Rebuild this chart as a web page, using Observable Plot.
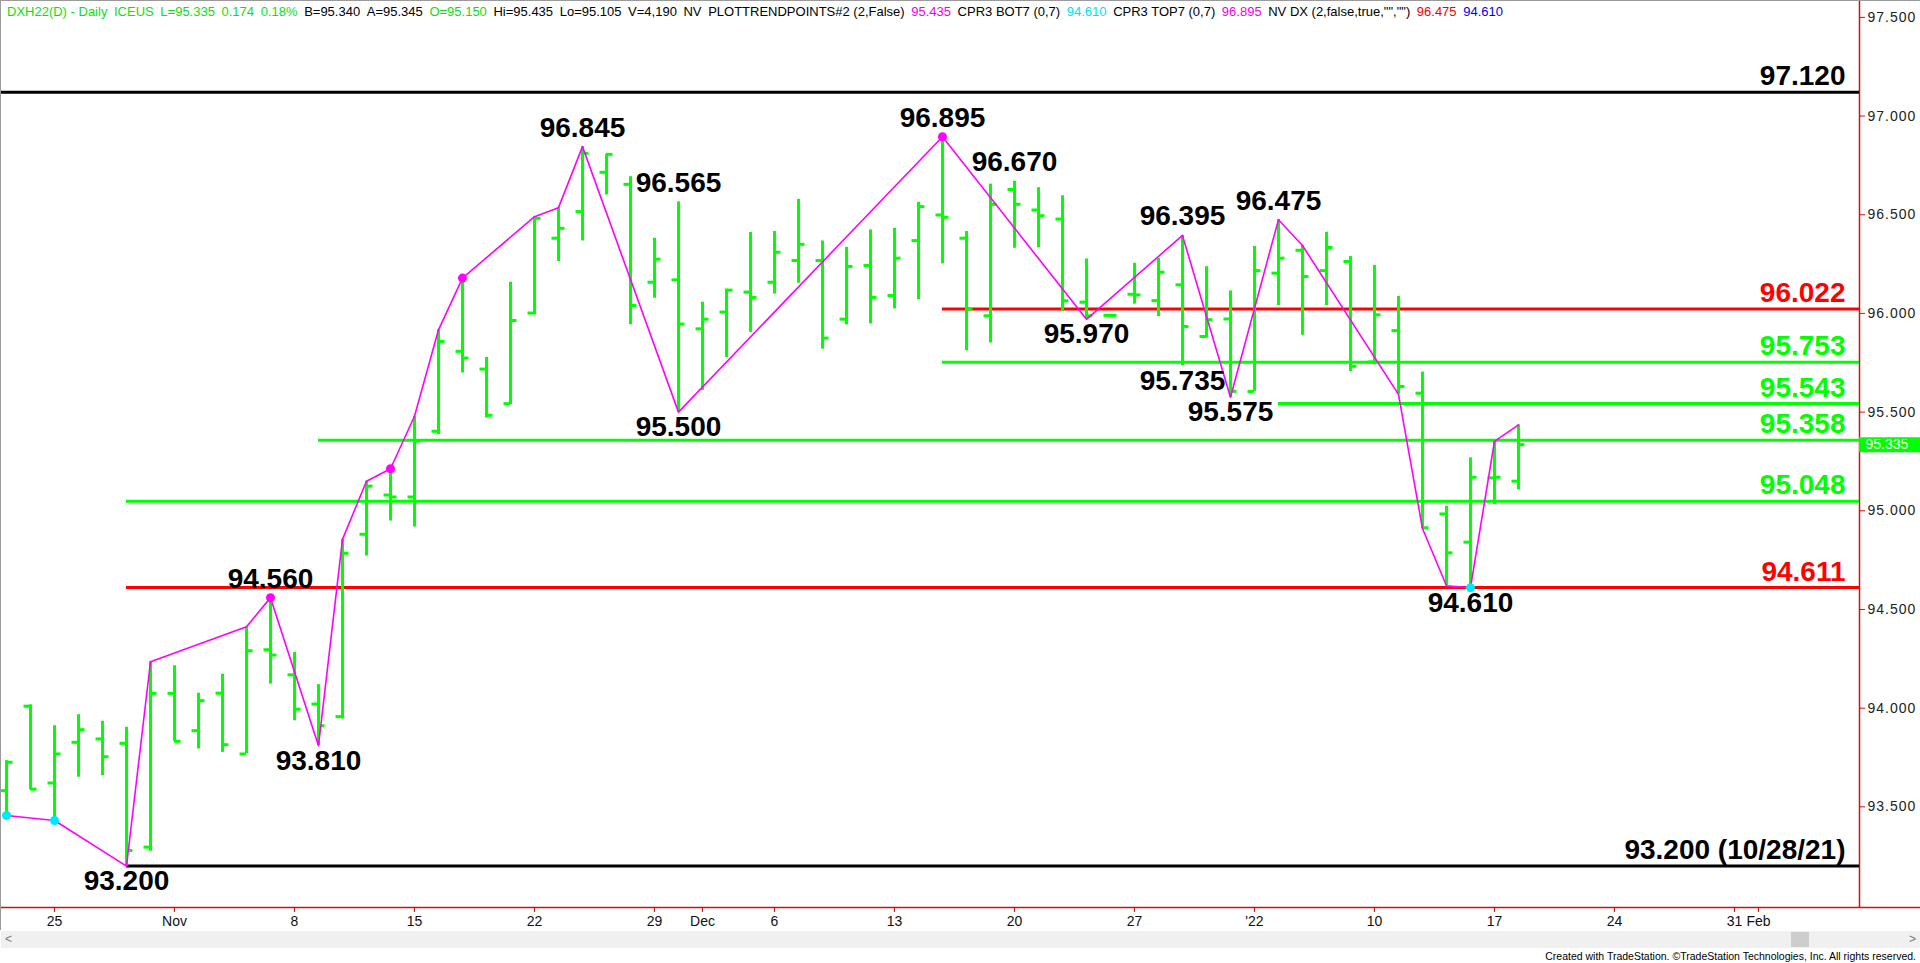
<!DOCTYPE html>
<html>
<head>
<meta charset="utf-8">
<script src="https://cdn.jsdelivr.net/npm/d3@7"></script>
<script src="https://cdn.jsdelivr.net/npm/@observablehq/plot@0.6"></script>
<style>
html, body { margin: 0; padding: 0; background: #fff; }
#wrap { position: relative; width: 1920px; height: 963px; overflow: hidden; font-family: "Liberation Sans", Arial, sans-serif; }
#chart svg { display: block; }
#border { position: absolute; left: 0; top: 0; width: 1920px; height: 930px; border-top: 1px solid #9a9a9a; border-left: 1px solid #9a9a9a; box-sizing: border-box; pointer-events: none; }
#hdr { position: absolute; left: 7px; top: 4px; font-size: 13px; white-space: pre; display: flex; gap: 6.6px; line-height: 16px; }
#hdr .g { color: #10dd10; } #hdr .k { color: #000; } #hdr .m { color: #ee00ee; }
#hdr .c { color: #00e0f0; } #hdr .r { color: #ee0000; } #hdr .b { color: #0000ee; }
#scroll { position: absolute; left: 1px; top: 931px; width: 1919px; height: 17px; background: #f0f0f0; }
#scroll .l, #scroll .rr { position: absolute; top: 0; font-size: 12px; color: #777; line-height: 17px; }
#scroll .l { left: 4px; } #scroll .rr { right: 4px; }
#scroll .thumb { position: absolute; left: 1790px; top: 1px; width: 18px; height: 15px; background: #cdcdcd; }
#credit { position: absolute; right: 4px; top: 950px; font-size: 10.5px; color: #000; }
</style>
</head>
<body>
<div id="wrap">
  <div id="chart"></div>
  <div id="border"></div>
  <div id="hdr"><span class="g">DXH22(D) - Daily</span><span class="g">ICEUS</span><span class="g">L=95.335</span><span class="g">0.174</span><span class="g">0.18%</span><span class="k">B=95.340</span><span class="k">A=95.345</span><span class="g">O=95.150</span><span class="k">Hi=95.435</span><span class="k">Lo=95.105</span><span class="k">V=4,190</span><span class="k">NV</span><span class="k">PLOTTRENDPOINTS#2 (2,False)</span><span class="m">95.435</span><span class="k">CPR3 BOT7 (0,7)</span><span class="c">94.610</span><span class="k">CPR3 TOP7 (0,7)</span><span class="m">96.895</span><span class="k">NV DX (2,false,true,"","")</span><span class="r">96.475</span><span class="b">94.610</span></div>
  <div id="scroll"><span class="l">&lt;</span><div class="thumb"></div><span class="rr">&gt;</span></div>
  <div id="credit">Created with TradeStation. ©TradeStation Technologies, Inc. All rights reserved.</div>
</div>
<script>
// ---- Daily OHLC bars, DXH22 (US Dollar Index, March 2022) ----
const barDates = [
  "2021-10-21","2021-10-22","2021-10-25","2021-10-26","2021-10-27","2021-10-28","2021-10-29","2021-11-01",
  "2021-11-02","2021-11-03","2021-11-04","2021-11-05","2021-11-08","2021-11-09","2021-11-10","2021-11-11",
  "2021-11-12","2021-11-15","2021-11-16","2021-11-17","2021-11-18","2021-11-19","2021-11-22","2021-11-23",
  "2021-11-24","2021-11-25","2021-11-26","2021-11-29","2021-11-30","2021-12-01","2021-12-02","2021-12-03",
  "2021-12-06","2021-12-07","2021-12-08","2021-12-09","2021-12-10","2021-12-13","2021-12-14","2021-12-15",
  "2021-12-16","2021-12-17","2021-12-20","2021-12-21","2021-12-22","2021-12-23","2021-12-24","2021-12-27",
  "2021-12-28","2021-12-29","2021-12-30","2021-12-31","2022-01-03","2022-01-04","2022-01-05","2022-01-06",
  "2022-01-07","2022-01-10","2022-01-11","2022-01-12","2022-01-13","2022-01-14","2022-01-17","2022-01-18"
];
const barOpen = [
  93.582, 94.010, 93.621, 93.827, 93.844, 93.822, 93.296, 94.075,
  93.886, 94.076, 93.768, 94.296, 94.169, 94.021, 93.957, 94.881,
  95.080, 95.070, 95.403, 95.808, 95.718, 95.543, 96.002, 96.381,
  96.516, 96.715, 96.654, 96.158, 96.170, 95.922, 96.007, 96.108,
  96.158, 96.268, 96.268, 95.971, 96.243, 96.091, 96.369, 96.499,
  96.381, 95.988, 96.628, 96.524, 96.478, 96.057, 95.990, 96.097,
  96.065, 96.145, 95.883, 95.972, 95.605, 96.204, 96.320, 96.217,
  96.263, 95.754, 95.913, 95.596, 94.984, 94.841, 95.167, 95.150
];
const barHigh = [
  93.734, 94.017, 93.911, 93.967, 93.933, 93.903, 94.235, 94.215,
  94.076, 94.172, 94.412, 94.560, 94.282, 94.119, 94.855, 95.150,
  95.213, 95.479, 95.917, 96.179, 95.777, 96.158, 96.490, 96.536,
  96.845, 96.806, 96.693, 96.381, 96.565, 96.057, 96.123, 96.410,
  96.415, 96.578, 96.367, 96.334, 96.423, 96.431, 96.563, 96.895,
  96.415, 96.655, 96.670, 96.637, 96.596, 96.276, 95.995, 96.254,
  96.279, 96.395, 96.237, 96.114, 96.339, 96.475, 96.344, 96.411,
  96.288, 96.243, 96.086, 95.703, 95.023, 95.268, 95.352, 95.435
];
const barLow = [
  93.456, 93.586, 93.431, 93.650, 93.658, 93.200, 93.275, 93.832,
  93.793, 93.776, 93.768, 94.122, 93.936, 93.810, 93.945, 94.771,
  94.948, 94.918, 95.386, 95.698, 95.470, 95.538, 95.993, 96.263,
  96.367, 96.600, 95.943, 96.077, 95.500, 95.609, 95.777, 95.904,
  96.098, 96.153, 95.819, 95.942, 95.947, 96.023, 96.069, 96.251,
  95.811, 95.850, 96.330, 96.333, 96.010, 95.970, 95.985, 96.047,
  95.984, 95.735, 95.875, 95.575, 95.605, 96.040, 95.889, 96.040,
  95.706, 95.740, 95.590, 94.910, 94.620, 94.610, 95.032, 95.105
];
const barClose = [
  93.726, 93.590, 93.768, 93.891, 93.754, 93.279, 94.075, 93.832,
  94.038, 93.815, 94.291, 94.269, 93.995, 93.911, 94.785, 95.125,
  95.070, 95.353, 95.858, 95.774, 95.484, 95.964, 96.482, 96.431,
  96.811, 96.806, 96.040, 96.275, 95.946, 95.971, 96.118, 96.081,
  96.310, 96.350, 95.875, 96.238, 96.081, 96.280, 96.541, 96.487,
  96.023, 96.553, 96.553, 96.495, 96.064, 95.988, 95.990, 96.094,
  96.209, 95.934, 95.968, 95.605, 96.217, 96.280, 96.187, 96.334,
  95.732, 95.993, 95.630, 94.914, 94.787, 95.170, 95.170, 95.335
];

// ---- Trend-point zigzag (magenta) ----
const zigDates = ["2021-10-21","2021-10-25","2021-10-28","2021-10-29","2021-11-04","2021-11-05","2021-11-09","2021-11-10",
  "2021-11-11","2021-11-12","2021-11-15","2021-11-16","2021-11-17","2021-11-22","2021-11-23","2021-11-24","2021-11-30",
  "2021-12-15","2021-12-23","2021-12-29","2021-12-31","2022-01-04","2022-01-05","2022-01-11","2022-01-12","2022-01-13",
  "2022-01-14","2022-01-17","2022-01-18"];
const zigValues = [93.456, 93.431, 93.200, 94.235, 94.412, 94.560, 93.810, 94.855,
  95.150, 95.213, 95.479, 95.917, 96.179, 96.490, 96.536, 96.845, 95.500,
  96.895, 95.970, 96.395, 95.575, 96.475, 96.344, 95.590, 94.910, 94.620,
  94.610, 95.352, 95.435];

// ---- Trend-point dots ----
const dotDates = ["2021-10-21","2021-10-25","2021-11-05","2021-11-12","2021-11-17","2021-12-15","2022-01-14"];
const dotValues = [93.456, 93.431, 94.560, 95.213, 96.179, 96.895, 94.610];
const dotKinds = ["low","low","high","high","high","high","low"];

// ---- Swing labels ----
const swingDates = ["2021-10-28","2021-11-05","2021-11-09","2021-11-24","2021-11-30","2021-11-30","2021-12-15",
  "2021-12-20","2021-12-23","2021-12-29","2021-12-29","2021-12-31","2022-01-04","2022-01-14"];
const swingValues = [93.200, 94.560, 93.810, 96.845, 96.565, 95.500, 96.895,
  96.670, 95.970, 96.395, 95.735, 95.575, 96.475, 94.610];
const swingSides = ["low","high","low","high","high","low","high","high","low","high","low","low","high","low"];

// ---- Horizontal levels ----
const levelValues = [97.120, 96.022, 95.753, 95.543, 95.358, 95.048, 94.611, 93.200];
const levelStarts = [null, "2021-12-15", "2021-12-15", "2022-01-04", "2021-11-09", "2021-10-28", "2021-10-28", "2021-10-28"];
const levelKinds = ["extreme", "pivot", "retrace", "retrace", "retrace", "retrace", "pivot", "extreme"];
const levelTexts = ["97.120", "96.022", "95.753", "95.543", "95.358", "95.048", "94.611", "93.200 (10/28/21)"];

// ---- Axes ----
const yTicks = [93.5, 94.0, 94.5, 95.0, 95.5, 96.0, 96.5, 97.0, 97.5];
const xTickDates = ["2021-10-25","2021-11-01","2021-11-08","2021-11-15","2021-11-22","2021-11-29","2021-12-01","2021-12-06",
  "2021-12-13","2021-12-20","2021-12-27","2022-01-03","2022-01-10","2022-01-17","2022-01-24","2022-01-31","2022-02-01"];
const xTickLabels = ["25","Nov","8","15","22","29","Dec","6","13","20","27","'22","10","17","24","31","Feb"];
const lastPrice = 95.335;

// trading-day index (weekdays) counted from the first bar
const t0 = new Date(barDates[0] + "T00:00:00Z");
function tradeIdx(s) {
  const d = new Date(s + "T00:00:00Z");
  const c = new Date(t0);
  let n = 0;
  while (c < d) { c.setUTCDate(c.getUTCDate() + 1); const w = c.getUTCDay(); if (w !== 0 && w !== 6) n++; }
  return n;
}

const xMin = -0.25, xMax = 77.21;
const yMin = 92.99, yMax = 97.55;
const GREEN = "#00ff00", RED = "#ff0000", MAGENTA = "#ff00ff", CYAN = "#00e8ff", AXIS = "#cc1111";
const kindColor = {extreme: "#000000", pivot: RED, retrace: GREEN};

const bars = barDates.map((d, i) => ({i: tradeIdx(d), o: barOpen[i], h: barHigh[i], l: barLow[i], c: barClose[i]}));
const zig = zigDates.map((d, i) => ({i: tradeIdx(d), v: zigValues[i]}));
const dots = dotDates.map((d, i) => ({i: tradeIdx(d), v: dotValues[i], color: dotKinds[i] === "high" ? MAGENTA : CYAN}));
const swings = swingDates.map((d, i) => ({i: tradeIdx(d), v: swingValues[i], side: swingSides[i], t: swingValues[i].toFixed(3)}));
const levels = levelValues.map((v, k) => ({v, start: levelStarts[k] ? tradeIdx(levelStarts[k]) : xMin, color: kindColor[levelKinds[k]], t: levelTexts[k]}));
const xTickMap = new Map(xTickDates.map((d, k) => [tradeIdx(d), xTickLabels[k]]));
const tickW = 0.27;
const font = "Liberation Sans, Arial, sans-serif";

const chart = Plot.plot({
  width: 1920, height: 963,
  marginLeft: 0, marginRight: 61, marginTop: 7, marginBottom: 56,
  x: {domain: [xMin, xMax], axis: null},
  y: {domain: [yMin, yMax], axis: null},
  color: {type: "identity"},
  style: {fontFamily: font, background: "transparent", overflow: "visible"},
  marks: [
    // axes frame lines
    Plot.ruleY([yMin], {x1: xMin, x2: xMax + 61 / 24, stroke: AXIS, strokeWidth: 1.5}),
    Plot.ruleX([xMax], {y1: yMin, y2: yMax + 7 / 197.4, stroke: AXIS, strokeWidth: 1.5}),
    Plot.axisY(yTicks, {anchor: "right", tickSize: 5, tickPadding: 3, tickFormat: d => d.toFixed(3), fontSize: 14, stroke: AXIS, fill: "#222"}),
    Plot.axisX([...xTickMap.keys()], {anchor: "bottom", tickSize: 5, tickPadding: 4, tickFormat: d => xTickMap.get(d), fontSize: 14, stroke: AXIS, fill: "#111"}),
    // levels
    Plot.ruleY(levels, {y: "v", x1: "start", x2: xMax, stroke: "color", strokeWidth: 3}),
    // OHLC bars
    Plot.ruleX(bars, {x: "i", y1: "l", y2: "h", stroke: GREEN, strokeWidth: 3}),
    Plot.ruleY(bars, {y: "o", x1: d => d.i - tickW, x2: "i", stroke: GREEN, strokeWidth: 3}),
    Plot.ruleY(bars, {y: "c", x1: "i", x2: d => d.i + tickW, stroke: GREEN, strokeWidth: 3}),
    // zigzag
    Plot.line(zig, {x: "i", y: "v", stroke: MAGENTA, strokeWidth: 1.6}),
    Plot.dot(dots, {x: "i", y: "v", r: 4.5, fill: "color"}),
    // swing labels
    Plot.text(swings.filter(d => d.side === "high"), {x: "i", y: "v", text: "t", lineAnchor: "bottom", dy: -10, fontSize: 28, fontWeight: "bold", fill: "#000"}),
    Plot.text(swings.filter(d => d.side === "low"), {x: "i", y: "v", text: "t", lineAnchor: "top", dy: 4, fontSize: 28, fontWeight: "bold", fill: "#000"}),
    // level labels
    Plot.text(levels, {x: xMax, y: "v", text: "t", textAnchor: "end", lineAnchor: "bottom", dx: -14, dy: -7, fontSize: 28, fontWeight: "bold", fill: "color"}),
    // last price marker
    Plot.ruleY([lastPrice], {x1: xMax, x2: xMax + 61 / 24, stroke: GREEN, strokeWidth: 15}),
    Plot.text([lastPrice], {x: xMax, y: d => d, text: d => d.toFixed(3), textAnchor: "start", dx: 6, fontSize: 14, fill: "#fff"})
  ]
});
d3.select(chart).selectAll('g[aria-label="y-axis tick label"] text').attr("letter-spacing", "1px");
document.getElementById("chart").appendChild(chart);
</script>
</body>
</html>
